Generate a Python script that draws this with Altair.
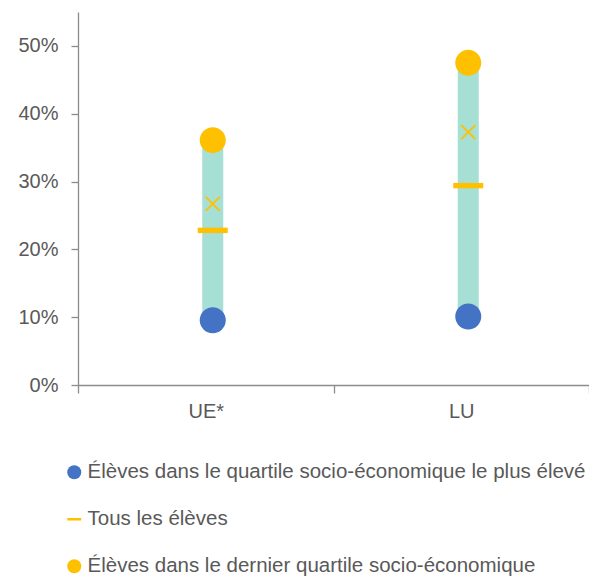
import altair as alt
import pandas as pd

categories = ["UE*", "LU"]
top_quartile = [0.0955, 0.101]      # blue circles
all_students = [0.228, 0.294]       # orange dash
bottom_quartile = [0.361, 0.475]    # orange circles
cross_values = [0.267, 0.373]       # orange x markers

lab_top = "Élèves dans le quartile socio-économique le plus élevé"
lab_all = "Tous les élèves"
lab_bottom = "Élèves dans le dernier quartile socio-économique"
series_labels = [lab_top, lab_all, lab_bottom]

BLUE = "#4472C4"
ORANGE = "#FFC000"
TEAL = "#A6DFD4"
TEXT = "#595959"
AXIS = "#8C8C8C"
FONT = "Liberation Sans"
SHIFT = 7

bars = pd.DataFrame({"cat": categories, "low": top_quartile, "high": bottom_quartile})
crosses = pd.DataFrame({"cat": categories, "value": cross_values})
circ_rows, dash_rows = [], []
for lab, vals in [(lab_top, top_quartile), (lab_bottom, bottom_quartile)]:
    for c, v in zip(categories, vals):
        circ_rows.append({"cat": c, "series": lab, "value": v})
for c, v in zip(categories, all_students):
    dash_rows.append({"cat": c, "series": lab_all, "value": v})
circles = pd.DataFrame(circ_rows)
dashes = pd.DataFrame(dash_rows)

DASH = "M-1,-0.18H1V0.18H-1Z"

x_enc = alt.X(
    "cat:N",
    sort=categories,
    scale=alt.Scale(domain=categories, paddingInner=0, paddingOuter=0),
    axis=alt.Axis(title=None, labelAngle=0, tickBand="extent", tickSize=8,
                  labelPadding=8),
)
y_scale = alt.Scale(domain=[0, 0.55], nice=False)
y_axis = alt.Axis(title=None, values=[0, 0.1, 0.2, 0.3, 0.4, 0.5], format=".0%",
                  tickSize=7, labelPadding=13, grid=False)

leg = alt.Legend(title=None, orient="none", legendX=-14, legendY=450,
                 direction="vertical", symbolSize=196)
color_enc = alt.Color("series:N", sort=series_labels,
                      scale=alt.Scale(domain=series_labels, range=[BLUE, ORANGE, ORANGE]),
                      legend=leg)
shape_enc = alt.Shape("series:N", sort=series_labels,
                      scale=alt.Scale(domain=series_labels, range=["circle", DASH, "circle"]),
                      legend=leg)

bar = alt.Chart(bars).mark_bar(size=21, color=TEAL, xOffset=SHIFT).encode(
    x=x_enc,
    y=alt.Y("low:Q", scale=y_scale, axis=y_axis),
    y2="high:Q",
)

cross = alt.Chart(crosses).mark_point(
    shape="M-1,-1L1,1M-1,1L1,-1", filled=False, size=196, strokeWidth=1.8,
    color=ORANGE, opacity=1, xOffset=SHIFT,
).encode(
    x=x_enc,
    y=alt.Y("value:Q", scale=y_scale, axis=y_axis),
)

dash_layer = alt.Chart(dashes).mark_point(
    filled=True, opacity=1, strokeWidth=0, size=900, xOffset=SHIFT,
).encode(
    x=x_enc,
    y=alt.Y("value:Q", scale=y_scale, axis=y_axis),
    color=color_enc,
    shape=shape_enc,
)

circ_layer = alt.Chart(circles).mark_point(
    filled=True, opacity=1, strokeWidth=0, size=676, xOffset=SHIFT,
).encode(
    x=x_enc,
    y=alt.Y("value:Q", scale=y_scale, axis=y_axis),
    color=color_enc,
    shape=shape_enc,
)

chart = alt.layer(bar, cross, dash_layer, circ_layer).properties(
    width=511,
    height=373,
    padding={"left": 70, "top": 4, "right": 0, "bottom": 192},
    autosize=alt.AutoSizeParams(type="none"),
).configure_view(stroke=None).configure_axis(
    domainColor=AXIS, tickColor=AXIS, labelColor=TEXT, labelFont=FONT,
    labelFontSize=20, domainWidth=1.3, tickWidth=1.3,
).configure_legend(
    labelFont=FONT, labelFontSize=20.5, labelColor=TEXT, symbolSize=196,
    rowPadding=26, labelOffset=3, padding=0, symbolStrokeWidth=0,
    labelLimit=600,
)

chart.save("out.html", embed_options={"renderer": "svg", "actions": False})
